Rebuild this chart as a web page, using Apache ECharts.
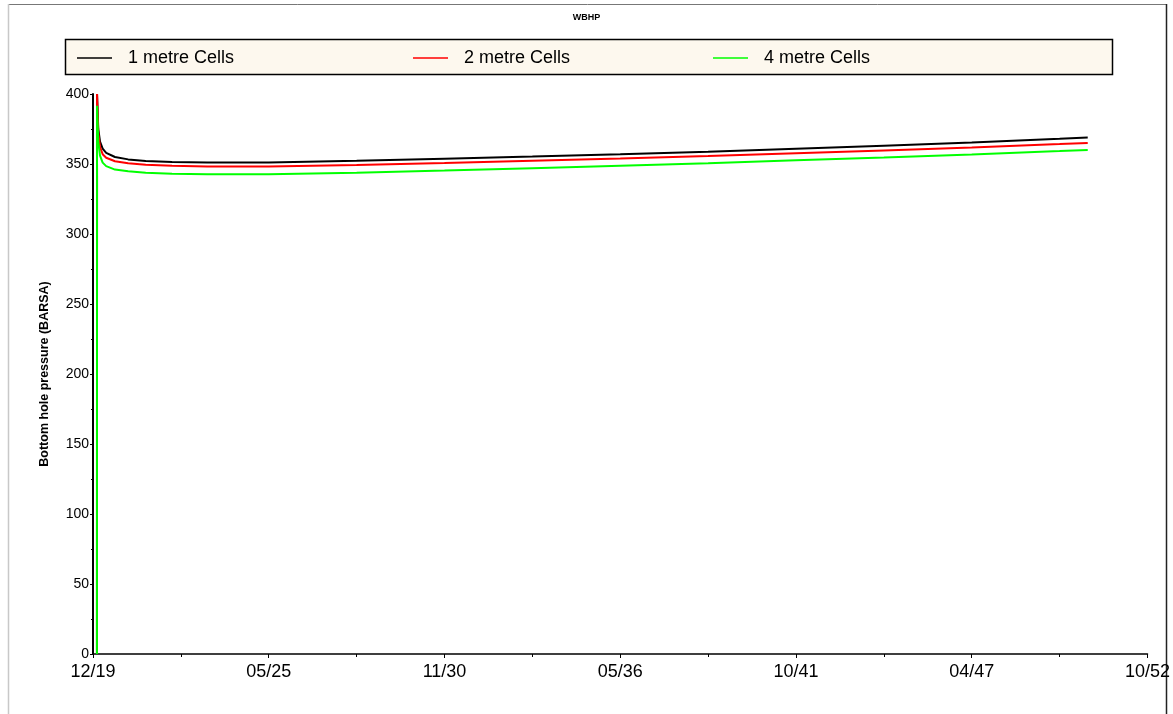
<!DOCTYPE html>
<html>
<head>
<meta charset="utf-8">
<script src="https://cdn.jsdelivr.net/npm/echarts@6/dist/echarts.min.js"></script>
<style>
html,body{margin:0;padding:0;background:#fff;}
#c{width:1173px;height:714px;}
</style>
</head>
<body>
<div id="c"></div>
<script>
// Time in days since 12/2019
const days = [45, 46, 60, 80, 110, 150, 250, 400, 600, 900, 1300, 2000, 3000, 4000, 5000, 6000, 7000, 8000, 9000, 10000, 11000, 11320];
const cells1m = [0, 400, 375, 366, 361, 358, 355, 353.3, 352.2, 351.4, 351, 351, 352.3, 353.8, 355.3, 357, 358.8, 360.9, 363.1, 365.3, 368.0, 369];
const cells2m = [0, 400, 372, 362, 357, 354.5, 352, 350.5, 349.5, 348.7, 348.3, 348.3, 349.3, 350.8, 352.4, 354, 355.8, 357.7, 359.7, 361.8, 364.2, 365];
const cells4m = [0, 391.6, 366, 356, 351, 348.5, 346, 344.8, 343.8, 343, 342.6, 342.6, 343.8, 345.3, 347, 348.8, 350.6, 352.6, 354.6, 356.8, 359.2, 360];
const seriesNames = ['1 metre Cells', '2 metre Cells', '4 metre Cells'];
const xTickLabels = ['12/19', '05/25', '11/30', '05/36', '10/41', '04/47', '10/52'];
const xTickStep = 2000;

const pair = (ys) => days.map((d, i) => [d, ys[i]]);
const colors = ['#000000', '#ff0000', '#00ff00'];
const font = '"Liberation Sans", Arial, sans-serif';

const chart = echarts.init(document.getElementById('c'), null, {renderer: 'canvas'});

const legendLefts = [72, 408, 708];
const legends = seriesNames.map((n, i) => ({
  data: [n],
  left: legendLefts[i],
  top: 44,
  icon: 'rect',
  itemWidth: 35,
  itemHeight: 1.5,
  selectedMode: false,
  textStyle: {fontFamily: font, fontSize: 18, color: '#000', padding: [0, 0, 0, 11]}
}));

chart.setOption({
  animation: false,
  backgroundColor: '#fff',
  title: {
    text: 'WBHP', left: 'center', top: 8,
    textStyle: {fontFamily: font, fontSize: 9, fontWeight: 'bold', color: '#000'}
  },
  graphic: [
    {type: 'line', shape: {x1: 8, y1: 4.5, x2: 1167, y2: 4.5}, style: {stroke: '#777', lineWidth: 1}, z: 0},
    {type: 'line', shape: {x1: 8.5, y1: 4, x2: 8.5, y2: 714}, style: {stroke: '#c8c8c8', lineWidth: 1.5}, z: 0},
    {type: 'line', shape: {x1: 1166.5, y1: 4, x2: 1166.5, y2: 714}, style: {stroke: '#222', lineWidth: 1.5}, z: 0},
    {type: 'rect', shape: {x: 65.5, y: 39.5, width: 1047, height: 35}, style: {fill: '#fdf8ee', stroke: '#000', lineWidth: 1.5}, z: 0}
  ],
  legend: legends,
  grid: {left: 93, right: 25, top: 94, bottom: 60, containLabel: false},
  xAxis: {
    type: 'value', min: 0, max: 12000, interval: xTickStep,
    axisLine: {show: true, lineStyle: {color: '#000', width: 1.5}},
    axisTick: {show: true, length: 4, lineStyle: {color: '#000'}},
    minorTick: {show: true, splitNumber: 2, length: 3, lineStyle: {color: '#000'}},
    splitLine: {show: false},
    axisLabel: {
      fontFamily: font, fontSize: 18, color: '#000', margin: 9,
      showMinLabel: true, showMaxLabel: true,
      formatter: (v) => xTickLabels[Math.round(v / xTickStep)]
    }
  },
  yAxis: {
    type: 'value', min: 0, max: 400, interval: 50,
    name: 'Bottom hole pressure (BARSA)', nameLocation: 'middle', nameGap: 42,
    nameTextStyle: {fontFamily: font, fontSize: 12.5, fontWeight: 'bold', color: '#000'},
    axisLine: {show: true, lineStyle: {color: '#000', width: 2}},
    axisTick: {show: true, length: 3, lineStyle: {color: '#000'}},
    minorTick: {show: true, splitNumber: 2, length: 2, lineStyle: {color: '#000'}},
    splitLine: {show: false},
    axisLabel: {fontFamily: font, fontSize: 14, color: '#000', margin: 4}
  },
  series: [cells1m, cells2m, cells4m].map((ys, i) => ({
    name: seriesNames[i], type: 'line', data: pair(ys),
    showSymbol: false, symbol: 'none', smooth: false,
    lineStyle: {color: colors[i], width: 2}, itemStyle: {color: colors[i]}
  }))
});
</script>
</body>
</html>
